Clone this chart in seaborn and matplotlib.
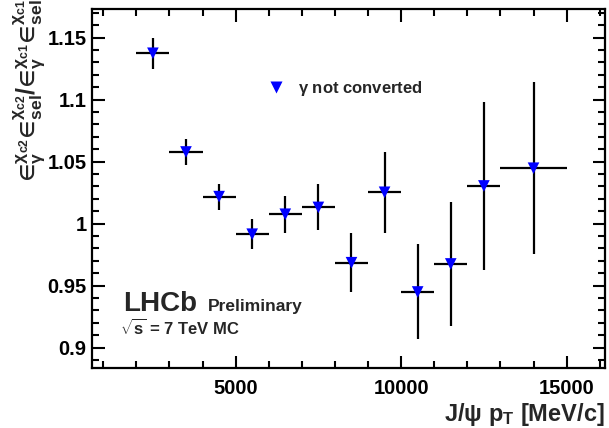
import matplotlib
matplotlib.use("Agg")
import matplotlib.pyplot as plt
import seaborn as sns
import pandas as pd
import numpy as np

# ---- data ----
pt_center = [2500, 3500, 4500, 5500, 6500, 7500, 8500, 9500, 10500, 11500, 12500, 14000]
pt_halfwidth = [500, 500, 500, 500, 500, 500, 500, 500, 500, 500, 500, 1000]
ratio = [1.1374, 1.0578, 1.0218, 0.9915, 1.0076, 1.0131, 0.9685, 1.0253, 0.9449, 0.9675, 1.0304, 1.0447]
ratio_err = [0.0127, 0.0105, 0.0105, 0.0119, 0.0148, 0.0185, 0.0236, 0.0327, 0.0383, 0.0498, 0.0675, 0.0692]
series_label = r"$\gamma$ not converted"
x_ticks = [5000, 10000, 15000]
x_ticklabels = ["5000", "10000", "15000"]
y_ticks = [0.9, 0.95, 1.0, 1.05, 1.1, 1.15]
y_ticklabels = ["0.9", "0.95", "1", "1.05", "1.1", "1.15"]

df = pd.DataFrame({"pt": pt_center, "ratio": ratio, "series": series_label})

sns.set_theme(style="ticks")
plt.rcParams["font.family"] = ["Liberation Sans", "DejaVu Sans"]
plt.rcParams["font.weight"] = "bold"
plt.rcParams["mathtext.fontset"] = "custom"
plt.rcParams["mathtext.rm"] = "Liberation Sans"
plt.rcParams["mathtext.it"] = "Liberation Sans"
plt.rcParams["mathtext.bf"] = "Liberation Sans:bold"
plt.rcParams["mathtext.sf"] = "Liberation Sans"

fig = plt.figure(figsize=(6.09, 4.28), dpi=100)
ax = fig.add_axes([92/609, 1-368/428, (605-92)/609, (368-9)/428])

ax.errorbar(pt_center, ratio, xerr=pt_halfwidth, yerr=ratio_err, fmt="none",
            ecolor="black", elinewidth=1.6, capsize=0, zorder=2)
sns.scatterplot(data=df, x="pt", y="ratio", hue="series", palette=["#0000ff"],
                marker="v", s=70, edgecolor="none", ax=ax, zorder=3)

ax.set_xlim(660, 16160)
ax.set_ylim(0.8836, 1.1731)
ax.set_xticks(x_ticks)
ax.set_xticklabels(x_ticklabels)
ax.set_yticks(y_ticks)
ax.set_yticklabels(y_ticklabels)
ax.xaxis.set_minor_locator(matplotlib.ticker.MultipleLocator(1000))
ax.yaxis.set_minor_locator(matplotlib.ticker.MultipleLocator(0.01))
ax.tick_params(which="both", direction="in", top=True, right=True, width=1.5,
               labelsize=14.5, colors="black")
ax.tick_params(which="major", length=9)
ax.tick_params(which="minor", length=5)
ax.tick_params(axis="x", pad=8)
ax.tick_params(axis="y", pad=4)
for lab in ax.get_xticklabels() + ax.get_yticklabels():
    lab.set_fontweight("bold")
for sp in ax.spines.values():
    sp.set_linewidth(1.6)
    sp.set_color("black")

ax.set_xlabel(r"J/$\psi$ p$_{\mathbf{T}}$ [MeV/c]", fontsize=17, fontweight="bold",
              loc="right", labelpad=2)
ax.set_ylabel("$∈_{\\gamma}^{\\chi_{c2}}∈_{\\mathbf{sel}}^{\\chi_{c2}}/"
              "∈_{\\gamma}^{\\chi_{c1}}∈_{\\mathbf{sel}}^{\\chi_{c1}}$",
              fontsize=18, fontweight="normal", loc="top")
ax.yaxis.set_label_coords(-0.086, 1.027)

leg = ax.legend(loc="center left", bbox_to_anchor=(0.31, 0.779), frameon=False,
                fontsize=12, handletextpad=0.3, borderpad=0, markerscale=1.0)
for t in leg.get_texts():
    t.set_fontweight("bold")

ax.text(0.06, 0.158, "LHCb", transform=ax.transAxes, fontsize=20, fontweight="bold",
        ha="left", va="baseline")
ax.text(0.226, 0.158, "Preliminary", transform=ax.transAxes, fontsize=12.5,
        fontweight="bold", ha="left", va="baseline")
ax.text(0.055, 0.092, r"$\sqrt{\mathbf{s}}$ = 7 TeV MC", transform=ax.transAxes,
        fontsize=12, fontweight="bold", ha="left", va="baseline")

fig.savefig("out.png", dpi=100)
